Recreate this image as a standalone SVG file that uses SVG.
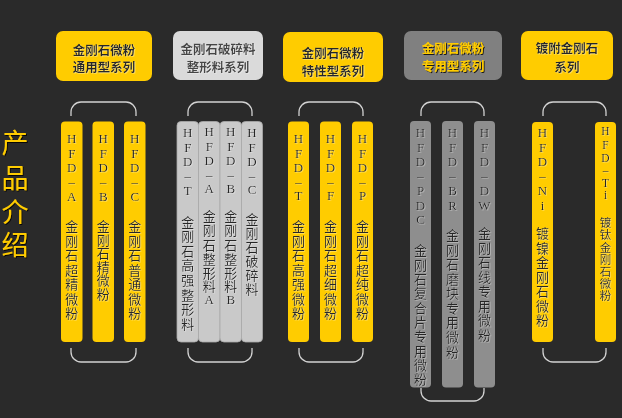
<svg xmlns="http://www.w3.org/2000/svg" width="622" height="418" viewBox="0 0 622 418">
<defs>
<style>
.bg{fill:#2a2a2a}
.py{fill:#ffcc00}
.pl{fill:#c9c9c9;stroke:#a9a9a9;stroke-width:0.8}
.pd{fill:#8e8e8e}
.br{fill:none;stroke:#d2d2d2;stroke-width:1.3}
text{text-anchor:middle;dominant-baseline:central}
.lat{font-family:"Liberation Serif","Noto Sans CJK SC",serif;font-size:13px;fill:#262626}
.cj{font-family:"Noto Sans CJK SC",sans-serif;font-size:13px;fill:#262626}
.sm{font-size:11.5px}
.pt{filter:url(#lt)}
.hd{font-family:"Noto Sans CJK SC",sans-serif;font-size:12.5px;font-weight:bold}
.title{font-family:"Noto Sans CJK SC",serif;font-size:27px;fill:#ffcc00;filter:url(#dk)}
</style>
<filter id="lt" x="-20%" y="-5%" width="140%" height="110%"><feDropShadow dx="0.7" dy="0.7" stdDeviation="0.3" flood-color="#ffffff" flood-opacity="0.45"/></filter>
<filter id="dk" x="-20%" y="-5%" width="140%" height="110%"><feDropShadow dx="1" dy="1" stdDeviation="0.4" flood-color="#000000" flood-opacity="0.8"/></filter>
</defs>
<rect class="bg" x="0" y="0" width="622" height="418"/>

<g id="title">
<text class="title"><tspan x="15" y="141">产</tspan><tspan x="15" y="176">品</tspan><tspan x="15" y="210">介</tspan><tspan x="15" y="243">绍</tspan></text>
</g>

<g id="head-general">
<rect x="56" y="31" width="96" height="50" rx="7" fill="#ffcc00"/>
<text class="hd" fill="#262626" filter="url(#lt)"><tspan x="104" y="48.5">金刚石微粉</tspan><tspan x="104" y="66">通用型系列</tspan></text>
</g>
<g id="head-crush">
<rect x="173" y="31" width="90" height="49" rx="7" fill="#dadada"/>
<text class="hd" fill="#444444" filter="url(#lt)"><tspan x="218" y="48">金刚石破碎料</tspan><tspan x="218" y="66">整形料系列</tspan></text>
</g>
<g id="head-special">
<rect x="283" y="32" width="100" height="50" rx="7" fill="#ffcc00"/>
<text class="hd" fill="#262626" filter="url(#lt)"><tspan x="333" y="51.5">金刚石微粉</tspan><tspan x="333" y="70">特性型系列</tspan></text>
</g>
<g id="head-dedicated">
<rect x="404" y="31" width="98" height="49" rx="7" fill="#808080"/>
<text class="hd" fill="#ffcc00" filter="url(#dk)"><tspan x="453" y="47">金刚石微粉</tspan><tspan x="453" y="65">专用型系列</tspan></text>
</g>
<g id="head-coated">
<rect x="521" y="31" width="92" height="49" rx="7" fill="#ffcc00"/>
<text class="hd" fill="#262626" filter="url(#lt)"><tspan x="567" y="47">镀附金刚石</tspan><tspan x="567" y="66">系列</tspan></text>
</g>

<g id="connectors">
<path class="br" d="M71,116 V112 A10,10 0 0 1 81,102 H126 A10,10 0 0 1 136,112 V116"/>
<path class="br" d="M71,348 V352 A10,10 0 0 0 81,362 H126 A10,10 0 0 0 136,352 V348"/>
<path class="br" d="M188,116 V112 A10,10 0 0 1 198,102 H242 A10,10 0 0 1 252,112 V116"/>
<path class="br" d="M188,348 V352 A10,10 0 0 0 198,362 H242 A10,10 0 0 0 252,352 V348"/>
<path class="br" d="M299,116 V112 A10,10 0 0 1 309,102 H353 A10,10 0 0 1 363,112 V116"/>
<path class="br" d="M299,348 V352 A10,10 0 0 0 309,362 H353 A10,10 0 0 0 363,352 V348"/>
<path class="br" d="M421,116 V112 A10,10 0 0 1 431,102 H474 A10,10 0 0 1 484,112 V116"/>
<path class="br" d="M421,388 V391 A10,10 0 0 0 431,401 H474 A10,10 0 0 0 484,391 V388"/>
<path class="br" d="M543,116 V112 A10,10 0 0 1 553,102 H596 A10,10 0 0 1 606,112 V116"/>
<path class="br" d="M543,348 V352 A10,10 0 0 0 553,362 H596 A10,10 0 0 0 606,352 V348"/>
</g>

<g id="hfd-a">
<rect class="py" x="61" y="121.5" width="21.5" height="220.5" rx="4"/>
<text class="lat pt"><tspan x="71.75" y="138">H</tspan><tspan x="71.75" y="152.5">F</tspan><tspan x="71.75" y="167">D</tspan><tspan x="71.75" y="181">–</tspan><tspan x="71.75" y="196">A</tspan></text>
<text class="cj pt"><tspan x="71.75" y="225">金</tspan><tspan x="71.75" y="239.5">刚</tspan><tspan x="71.75" y="254">石</tspan><tspan x="71.75" y="268.5">超</tspan><tspan x="71.75" y="283">精</tspan><tspan x="71.75" y="297.5">微</tspan><tspan x="71.75" y="312">粉</tspan></text>
</g>
<g id="hfd-b">
<rect class="py" x="92.5" y="121.5" width="21.5" height="220.5" rx="4"/>
<text class="lat pt"><tspan x="103.25" y="138">H</tspan><tspan x="103.25" y="152.5">F</tspan><tspan x="103.25" y="167">D</tspan><tspan x="103.25" y="181">–</tspan><tspan x="103.25" y="196">B</tspan></text>
<text class="cj pt"><tspan x="103.25" y="225">金</tspan><tspan x="103.25" y="238.5">刚</tspan><tspan x="103.25" y="252">石</tspan><tspan x="103.25" y="265.5">精</tspan><tspan x="103.25" y="279">微</tspan><tspan x="103.25" y="292.5">粉</tspan></text>
</g>
<g id="hfd-c">
<rect class="py" x="124" y="121.5" width="21.5" height="220.5" rx="4"/>
<text class="lat pt"><tspan x="134.75" y="138">H</tspan><tspan x="134.75" y="152.5">F</tspan><tspan x="134.75" y="167">D</tspan><tspan x="134.75" y="181">–</tspan><tspan x="134.75" y="196">C</tspan></text>
<text class="cj pt"><tspan x="134.75" y="225">金</tspan><tspan x="134.75" y="239.5">刚</tspan><tspan x="134.75" y="254">石</tspan><tspan x="134.75" y="268.5">普</tspan><tspan x="134.75" y="283">通</tspan><tspan x="134.75" y="297.5">微</tspan><tspan x="134.75" y="312">粉</tspan></text>
</g>

<g id="hfd-t-crush">
<rect class="pl" x="177" y="121.5" width="21.5" height="220.5" rx="4"/>
<text class="lat pt"><tspan x="187.75" y="132">H</tspan><tspan x="187.75" y="147">F</tspan><tspan x="187.75" y="161">D</tspan><tspan x="187.75" y="175">–</tspan><tspan x="187.75" y="190">T</tspan></text>
<text class="cj pt"><tspan x="187.75" y="221">金</tspan><tspan x="187.75" y="235">刚</tspan><tspan x="187.75" y="250">石</tspan><tspan x="187.75" y="264">高</tspan><tspan x="187.75" y="279">强</tspan><tspan x="187.75" y="294">整</tspan><tspan x="187.75" y="308">形</tspan><tspan x="187.75" y="323">料</tspan></text>
</g>
<g id="hfd-a-shape">
<rect class="pl" x="198.5" y="121.5" width="21.5" height="220.5" rx="4"/>
<text class="lat pt"><tspan x="209.25" y="131">H</tspan><tspan x="209.25" y="146">F</tspan><tspan x="209.25" y="160">D</tspan><tspan x="209.25" y="174">–</tspan><tspan x="209.25" y="188">A</tspan></text>
<text class="cj pt"><tspan x="209.25" y="215">金</tspan><tspan x="209.25" y="229">刚</tspan><tspan x="209.25" y="243.5">石</tspan><tspan x="209.25" y="257.5">整</tspan><tspan x="209.25" y="271.5">形</tspan><tspan x="209.25" y="285">料</tspan></text>
<text class="lat pt"><tspan x="209.25" y="298.5">A</tspan></text>
</g>
<g id="hfd-b-shape">
<rect class="pl" x="220" y="121.5" width="21.5" height="220.5" rx="4"/>
<text class="lat pt"><tspan x="230.75" y="131">H</tspan><tspan x="230.75" y="146">F</tspan><tspan x="230.75" y="160">D</tspan><tspan x="230.75" y="174">–</tspan><tspan x="230.75" y="188">B</tspan></text>
<text class="cj pt"><tspan x="230.75" y="215">金</tspan><tspan x="230.75" y="229">刚</tspan><tspan x="230.75" y="243.5">石</tspan><tspan x="230.75" y="257.5">整</tspan><tspan x="230.75" y="271.5">形</tspan><tspan x="230.75" y="285">料</tspan></text>
<text class="lat pt"><tspan x="230.75" y="298.5">B</tspan></text>
</g>
<g id="hfd-c-crush">
<rect class="pl" x="241.5" y="121.5" width="21" height="220.5" rx="4"/>
<text class="lat pt"><tspan x="252" y="132">H</tspan><tspan x="252" y="146.5">F</tspan><tspan x="252" y="161">D</tspan><tspan x="252" y="175">–</tspan><tspan x="252" y="188.5">C</tspan></text>
<text class="cj pt"><tspan x="252" y="217.5">金</tspan><tspan x="252" y="231.5">刚</tspan><tspan x="252" y="245.5">石</tspan><tspan x="252" y="259.5">破</tspan><tspan x="252" y="273.5">碎</tspan><tspan x="252" y="287.5">料</tspan></text>
</g>

<g id="hfd-t">
<rect class="py" x="288" y="121.5" width="21" height="220.5" rx="4"/>
<text class="lat pt"><tspan x="298.5" y="138">H</tspan><tspan x="298.5" y="152.5">F</tspan><tspan x="298.5" y="166.5">D</tspan><tspan x="298.5" y="181">–</tspan><tspan x="298.5" y="195">T</tspan></text>
<text class="cj pt"><tspan x="298.5" y="225">金</tspan><tspan x="298.5" y="239.5">刚</tspan><tspan x="298.5" y="254">石</tspan><tspan x="298.5" y="268.5">高</tspan><tspan x="298.5" y="283">强</tspan><tspan x="298.5" y="297.5">微</tspan><tspan x="298.5" y="312">粉</tspan></text>
</g>
<g id="hfd-f">
<rect class="py" x="320" y="121.5" width="21" height="220.5" rx="4"/>
<text class="lat pt"><tspan x="330.5" y="138">H</tspan><tspan x="330.5" y="152.5">F</tspan><tspan x="330.5" y="166.5">D</tspan><tspan x="330.5" y="181">–</tspan><tspan x="330.5" y="195">F</tspan></text>
<text class="cj pt"><tspan x="330.5" y="225">金</tspan><tspan x="330.5" y="239.5">刚</tspan><tspan x="330.5" y="254">石</tspan><tspan x="330.5" y="268.5">超</tspan><tspan x="330.5" y="283">细</tspan><tspan x="330.5" y="297.5">微</tspan><tspan x="330.5" y="312">粉</tspan></text>
</g>
<g id="hfd-p">
<rect class="py" x="352" y="121.5" width="21" height="220.5" rx="4"/>
<text class="lat pt"><tspan x="362.5" y="138">H</tspan><tspan x="362.5" y="152.5">F</tspan><tspan x="362.5" y="166.5">D</tspan><tspan x="362.5" y="181">–</tspan><tspan x="362.5" y="195">P</tspan></text>
<text class="cj pt"><tspan x="362.5" y="225">金</tspan><tspan x="362.5" y="239.5">刚</tspan><tspan x="362.5" y="254">石</tspan><tspan x="362.5" y="268.5">超</tspan><tspan x="362.5" y="283">纯</tspan><tspan x="362.5" y="297.5">微</tspan><tspan x="362.5" y="312">粉</tspan></text>
</g>

<g id="hfd-pdc">
<rect class="pd" x="410" y="121" width="21" height="266.5" rx="4"/>
<text class="lat pt"><tspan x="420.5" y="132">H</tspan><tspan x="420.5" y="146.5">F</tspan><tspan x="420.5" y="161">D</tspan><tspan x="420.5" y="175">–</tspan><tspan x="420.5" y="190">P</tspan><tspan x="420.5" y="204.5">D</tspan><tspan x="420.5" y="219">C</tspan></text>
<text class="cj pt"><tspan x="420.5" y="249">金</tspan><tspan x="420.5" y="263.5">刚</tspan><tspan x="420.5" y="278">石</tspan><tspan x="420.5" y="292">复</tspan><tspan x="420.5" y="306.5">合</tspan><tspan x="420.5" y="321">片</tspan><tspan x="420.5" y="335">专</tspan><tspan x="420.5" y="349.5">用</tspan><tspan x="420.5" y="363.5">微</tspan><tspan x="420.5" y="378">粉</tspan></text>
</g>
<g id="hfd-br">
<rect class="pd" x="442" y="121" width="21" height="266.5" rx="4"/>
<text class="lat pt"><tspan x="452.5" y="132">H</tspan><tspan x="452.5" y="146.5">F</tspan><tspan x="452.5" y="161">D</tspan><tspan x="452.5" y="175">–</tspan><tspan x="452.5" y="190">B</tspan><tspan x="452.5" y="204.5">R</tspan></text>
<text class="cj pt"><tspan x="452.5" y="234">金</tspan><tspan x="452.5" y="248.5">刚</tspan><tspan x="452.5" y="263">石</tspan><tspan x="452.5" y="277.5">磨</tspan><tspan x="452.5" y="292">块</tspan><tspan x="452.5" y="306.5">专</tspan><tspan x="452.5" y="321">用</tspan><tspan x="452.5" y="335.5">微</tspan><tspan x="452.5" y="351">粉</tspan></text>
</g>
<g id="hfd-dw">
<rect class="pd" x="474" y="121" width="21" height="266.5" rx="4"/>
<text class="lat pt"><tspan x="484.5" y="132">H</tspan><tspan x="484.5" y="146.5">F</tspan><tspan x="484.5" y="161">D</tspan><tspan x="484.5" y="175">–</tspan><tspan x="484.5" y="190">D</tspan><tspan x="484.5" y="204.5">W</tspan></text>
<text class="cj pt"><tspan x="484.5" y="232">金</tspan><tspan x="484.5" y="246.5">刚</tspan><tspan x="484.5" y="261">石</tspan><tspan x="484.5" y="275.5">线</tspan><tspan x="484.5" y="290">专</tspan><tspan x="484.5" y="304.5">用</tspan><tspan x="484.5" y="319">微</tspan><tspan x="484.5" y="333.5">粉</tspan></text>
</g>

<g id="hfd-ni">
<rect class="py" x="532" y="122" width="21" height="220" rx="4"/>
<text class="lat pt"><tspan x="542.5" y="132">H</tspan><tspan x="542.5" y="146.5">F</tspan><tspan x="542.5" y="161">D</tspan><tspan x="542.5" y="175">–</tspan><tspan x="542.5" y="190">N</tspan><tspan x="542.5" y="204.5">i</tspan></text>
<text class="cj pt"><tspan x="542.5" y="232">镀</tspan><tspan x="542.5" y="246.5">镍</tspan><tspan x="542.5" y="261">金</tspan><tspan x="542.5" y="275.5">刚</tspan><tspan x="542.5" y="290">石</tspan><tspan x="542.5" y="304.5">微</tspan><tspan x="542.5" y="318.5">粉</tspan></text>
</g>
<g id="hfd-ti">
<rect class="py" x="595" y="122" width="21" height="220" rx="4"/>
<text class="lat sm pt"><tspan x="605.5" y="131">H</tspan><tspan x="605.5" y="144.5">F</tspan><tspan x="605.5" y="157.5">D</tspan><tspan x="605.5" y="170">–</tspan><tspan x="605.5" y="183">T</tspan><tspan x="605.5" y="194.5">i</tspan></text>
<text class="cj sm pt"><tspan x="605.5" y="221.5">镀</tspan><tspan x="605.5" y="234">钛</tspan><tspan x="605.5" y="246.5">金</tspan><tspan x="605.5" y="258.5">刚</tspan><tspan x="605.5" y="270.5">石</tspan><tspan x="605.5" y="282.5">微</tspan><tspan x="605.5" y="294.5">粉</tspan></text>
</g>
</svg>
